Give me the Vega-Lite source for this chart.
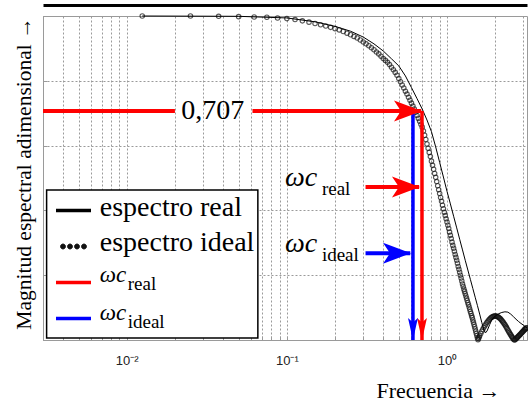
{
  "$schema": "https://vega.github.io/schema/vega-lite/v6.json",
  "width": 484,
  "height": 324,
  "autosize": {"type": "none"},
  "padding": {"left": 43, "top": 16, "right": 1, "bottom": 65},
  "background": "white",
  "config": {
    "view": {"stroke": "#9a9a9a", "strokeWidth": 1},
    "font": "Liberation Serif",
    "legend": {"labelFontSize": 27, "labelOffset": 8, "labelLimit": 400, "rowPadding": 8, "symbolSize": 1225, "labelBaseline": "middle", "clipHeight": 27, "padding": 0, "symbolFillColor": "transparent"}
  },
  "datasets": {
    "legbox": [{"x1": 0.00316, "x2": 0.0659, "y1": 0.006, "y2": 0.463}],
    "ideal": [
      {"f":0.0125,"m":1.0},{"f":0.025,"m":1.0},{"f":0.0375,"m":0.999},{"f":0.05,"m":0.998},{"f":0.0625,"m":0.997},{"f":0.075,"m":0.996},{"f":0.0875,"m":0.994},{"f":0.1,"m":0.992},
      {"f":0.1125,"m":0.989},{"f":0.125,"m":0.985},{"f":0.1375,"m":0.981},{"f":0.15,"m":0.977},{"f":0.1625,"m":0.973},{"f":0.175,"m":0.969},{"f":0.1875,"m":0.965},{"f":0.2,"m":0.961},
      {"f":0.2125,"m":0.957},{"f":0.225,"m":0.952},{"f":0.2375,"m":0.947},{"f":0.25,"m":0.942},{"f":0.2625,"m":0.937},{"f":0.275,"m":0.932},{"f":0.2875,"m":0.926},{"f":0.3,"m":0.92},
      {"f":0.3125,"m":0.914},{"f":0.325,"m":0.908},{"f":0.3375,"m":0.902},{"f":0.35,"m":0.896},{"f":0.3625,"m":0.889},{"f":0.375,"m":0.883},{"f":0.3875,"m":0.876},{"f":0.4,"m":0.869},
      {"f":0.4125,"m":0.863},{"f":0.425,"m":0.857},{"f":0.4375,"m":0.85},{"f":0.45,"m":0.842},{"f":0.4625,"m":0.834},{"f":0.475,"m":0.826},{"f":0.4875,"m":0.817},{"f":0.5,"m":0.807},
      {"f":0.5125,"m":0.797},{"f":0.525,"m":0.787},{"f":0.5375,"m":0.778},{"f":0.55,"m":0.768},{"f":0.5625,"m":0.759},{"f":0.575,"m":0.749},{"f":0.5875,"m":0.74},{"f":0.6,"m":0.731},
      {"f":0.6125,"m":0.722},{"f":0.625,"m":0.713},{"f":0.6375,"m":0.703},{"f":0.65,"m":0.693},{"f":0.6625,"m":0.684},{"f":0.675,"m":0.675},{"f":0.6875,"m":0.666},{"f":0.7,"m":0.657},
      {"f":0.7125,"m":0.645},{"f":0.725,"m":0.632},{"f":0.7375,"m":0.619},{"f":0.75,"m":0.605},{"f":0.7625,"m":0.592},{"f":0.775,"m":0.579},{"f":0.7875,"m":0.566},{"f":0.8,"m":0.552},
      {"f":0.8125,"m":0.539},{"f":0.825,"m":0.527},{"f":0.8375,"m":0.514},{"f":0.85,"m":0.502},{"f":0.8625,"m":0.489},{"f":0.875,"m":0.476},{"f":0.8875,"m":0.464},{"f":0.9,"m":0.452},
      {"f":0.9125,"m":0.44},{"f":0.925,"m":0.428},{"f":0.9375,"m":0.416},{"f":0.95,"m":0.405},{"f":0.9625,"m":0.394},{"f":0.975,"m":0.384},{"f":0.9875,"m":0.374},{"f":1.0,"m":0.364},
      {"f":1.0125,"m":0.354},{"f":1.025,"m":0.344},{"f":1.0375,"m":0.333},{"f":1.05,"m":0.323},{"f":1.0625,"m":0.313},{"f":1.075,"m":0.302},{"f":1.0875,"m":0.292},{"f":1.1,"m":0.283},
      {"f":1.1125,"m":0.274},{"f":1.125,"m":0.264},{"f":1.1375,"m":0.255},{"f":1.15,"m":0.246},{"f":1.1625,"m":0.237},{"f":1.175,"m":0.227},{"f":1.1875,"m":0.218},{"f":1.2,"m":0.209},
      {"f":1.2125,"m":0.2},{"f":1.225,"m":0.191},{"f":1.2375,"m":0.182},{"f":1.25,"m":0.173},{"f":1.2625,"m":0.165},{"f":1.275,"m":0.157},{"f":1.2875,"m":0.15},{"f":1.3,"m":0.143},
      {"f":1.3125,"m":0.136},{"f":1.325,"m":0.129},{"f":1.3375,"m":0.122},{"f":1.35,"m":0.115},{"f":1.3625,"m":0.109},{"f":1.375,"m":0.102},{"f":1.3875,"m":0.095},{"f":1.4,"m":0.088},
      {"f":1.4125,"m":0.082},{"f":1.425,"m":0.075},{"f":1.4375,"m":0.069},{"f":1.45,"m":0.062},{"f":1.4625,"m":0.055},{"f":1.475,"m":0.048},{"f":1.4875,"m":0.041},{"f":1.5,"m":0.034},
      {"f":1.5125,"m":0.027},{"f":1.525,"m":0.02},{"f":1.5375,"m":0.013},{"f":1.55,"m":0.006},{"f":1.5625,"m":0.001},{"f":1.575,"m":0.005},{"f":1.5875,"m":0.009},{"f":1.6,"m":0.013},
      {"f":1.625,"m":0.02},{"f":1.65,"m":0.027},{"f":1.675,"m":0.033},{"f":1.7,"m":0.039},{"f":1.725,"m":0.044},{"f":1.75,"m":0.049},{"f":1.775,"m":0.054},{"f":1.8,"m":0.058},
      {"f":1.825,"m":0.062},{"f":1.85,"m":0.065},{"f":1.875,"m":0.068},{"f":1.9,"m":0.07},{"f":1.925,"m":0.072},{"f":1.95,"m":0.073},{"f":1.975,"m":0.074},{"f":2.0,"m":0.074},
      {"f":2.025,"m":0.074},{"f":2.05,"m":0.073},{"f":2.075,"m":0.072},{"f":2.1,"m":0.07},{"f":2.125,"m":0.068},{"f":2.15,"m":0.066},{"f":2.175,"m":0.063},{"f":2.2,"m":0.06},
      {"f":2.225,"m":0.057},{"f":2.25,"m":0.054},{"f":2.275,"m":0.05},{"f":2.3,"m":0.047},{"f":2.325,"m":0.043},{"f":2.35,"m":0.039},{"f":2.375,"m":0.035},{"f":2.4,"m":0.031},
      {"f":2.425,"m":0.027},{"f":2.45,"m":0.023},{"f":2.475,"m":0.019},{"f":2.5,"m":0.016},{"f":2.525,"m":0.012},{"f":2.55,"m":0.009},{"f":2.575,"m":0.006},{"f":2.6,"m":0.003},
      {"f":2.625,"m":0.001},{"f":2.65,"m":0.0},{"f":2.675,"m":0.002},{"f":2.7,"m":0.004},{"f":2.725,"m":0.006},{"f":2.75,"m":0.008},{"f":2.775,"m":0.01},{"f":2.8,"m":0.012},
      {"f":2.825,"m":0.014},{"f":2.85,"m":0.016},{"f":2.875,"m":0.018},{"f":2.9,"m":0.02},{"f":2.925,"m":0.022},{"f":2.95,"m":0.024},{"f":2.975,"m":0.026},{"f":3.0,"m":0.028},
      {"f":3.025,"m":0.03},{"f":3.05,"m":0.032},{"f":3.075,"m":0.034},{"f":3.1,"m":0.035},{"f":3.125,"m":0.037},{"f":3.15,"m":0.038}
    ],
    "real": [
      {"f":0.0125,"m":1.0},{"f":0.05,"m":0.999},{"f":0.1,"m":0.994},{"f":0.15,"m":0.982},{"f":0.2,"m":0.968},{"f":0.25,"m":0.953},{"f":0.3,"m":0.935},{"f":0.35,"m":0.914},
      {"f":0.4,"m":0.892},{"f":0.45,"m":0.868},{"f":0.5,"m":0.846},{"f":0.55,"m":0.815},{"f":0.6,"m":0.779},{"f":0.65,"m":0.745},{"f":0.7,"m":0.713},{"f":0.75,"m":0.679},
      {"f":0.8,"m":0.643},{"f":0.85,"m":0.596},{"f":0.9,"m":0.548},{"f":0.95,"m":0.503},{"f":1.0,"m":0.459},{"f":1.05,"m":0.42},{"f":1.1,"m":0.382},{"f":1.15,"m":0.346},
      {"f":1.2,"m":0.311},{"f":1.25,"m":0.278},{"f":1.3,"m":0.246},{"f":1.35,"m":0.216},{"f":1.4,"m":0.187},{"f":1.45,"m":0.159},{"f":1.5,"m":0.132},{"f":1.55,"m":0.106},
      {"f":1.6,"m":0.08},{"f":1.65,"m":0.054},{"f":1.7,"m":0.031},{"f":1.74,"m":0.022},{"f":1.78,"m":0.028},{"f":1.85,"m":0.048},{"f":1.9,"m":0.061},{"f":2.0,"m":0.074},
      {"f":2.1,"m":0.081},{"f":2.2,"m":0.085},{"f":2.3,"m":0.087},{"f":2.4,"m":0.086},{"f":2.5,"m":0.08},{"f":2.6,"m":0.072},{"f":2.7,"m":0.064},{"f":2.8,"m":0.057},
      {"f":2.9,"m":0.051},{"f":3.0,"m":0.046},{"f":3.1,"m":0.04},{"f":3.16,"m":0.037}
    ],
    "hseg": [
      {"serie":"ωc real","x1":0.003,"x2":0.02,"y":0.707},
      {"serie":"ωc real","x1":0.061,"x2":0.69,"y":0.707},
      {"serie":"ωc real","x1":0.31,"x2":0.67,"y":0.472},
      {"serie":"ωc ideal","x1":0.31,"x2":0.59,"y":0.268}
    ],
    "vseg": [
      {"serie":"ωc real","x":0.698,"y1":0.707,"y2":0.0},
      {"serie":"ωc ideal","x":0.613,"y1":0.70,"y2":0.0}
    ],
    "tipr": [
      {"serie":"ωc real","x":0.698,"y":0.707},
      {"serie":"ωc real","x":0.678,"y":0.472},
      {"serie":"ωc ideal","x":0.596,"y":0.268}
    ],
    "tipd": [
      {"serie":"ωc real","x":0.698,"y":0.0},
      {"serie":"ωc ideal","x":0.613,"y":0.0}
    ],
    "lbl": [{"t":"0,707","f":0.0345,"m":0.707}],
    "legtxt": [
      {"t":"espectro real","f":0.00678,"m":0.383},
      {"t":"espectro ideal","f":0.00678,"m":0.275}
    ],
    "omega": [
      {"sub":"real","f":0.0972,"m":0.475,"g":"plot"},
      {"sub":"ideal","f":0.0972,"m":0.272,"g":"plot"},
      {"sub":"real","f":0.00678,"m":0.18,"g":"leg"},
      {"sub":"ideal","f":0.00678,"m":0.062,"g":"leg"}
    ],
    "leg": [
      {"serie":"espectro real","f":0.001,"m":0.5},
      {"serie":"espectro ideal","f":0.001,"m":0.5},
      {"serie":"ωc real","f":0.001,"m":0.5},
      {"serie":"ωc ideal","f":0.001,"m":0.5}
    ]
  },
  "layer": [
    {
      "data": {"name": "legbox"},
      "mark": {"type": "rect", "fill": "white", "stroke": "black", "strokeWidth": 1.5},
      "encoding": {
        "x": {"field": "x1", "type": "quantitative", "scale": {"type": "log", "domain": [0.003, 3.16], "nice": false}, "axis": null},
        "x2": {"field": "x2"},
        "y": {
          "field": "y1", "type": "quantitative", "scale": {"domain": [0, 1], "nice": false, "zero": false},
          "axis": {
            "values": [0, 0.2, 0.4, 0.6, 0.8, 1],
            "grid": true, "gridDash": [2, 2], "gridColor": "#9a9a9a", "gridWidth": 1,
            "labels": false, "ticks": true, "tickSize": -4, "tickColor": "#9a9a9a", "domainColor": "#9a9a9a",
            "title": "Magnitud espectral adimensional  →", "titleFont": "Liberation Serif", "titleFontSize": 21.5,
            "titleFontWeight": "normal", "titleColor": "black", "titleX": -13, "titleY": 157, "titleAngle": 270,
            "titleAlign": "center", "titleBaseline": "alphabetic"
          }
        },
        "y2": {"field": "y2"}
      }
    },
    {
      "data": {"name": "ideal"},
      "mark": {"type": "point", "shape": "circle", "filled": false, "size": 20, "strokeWidth": 1.1, "color": "#111111"},
      "encoding": {
        "x": {
          "field": "f", "type": "quantitative",
          "axis": {
            "orient": "bottom",
            "values": [0.003,0.004,0.005,0.006,0.007,0.008,0.009,0.01,0.02,0.03,0.04,0.05,0.06,0.07,0.08,0.09,0.1,0.2,0.3,0.4,0.5,0.6,0.7,0.8,0.9,1,2,3],
            "grid": true, "gridDash": [2, 2], "gridColor": "#9a9a9a", "gridWidth": 1,
            "domainColor": "#9a9a9a", "ticks": true, "tickSize": -4, "tickColor": "#9a9a9a",
            "labelExpr": "datum.value == 0.01 ? '10⁻²' : datum.value == 0.1 ? '10⁻¹' : datum.value == 1 ? '10⁰' : ''",
            "labelFont": "Liberation Sans", "labelFontSize": 13, "labelColor": "#222222",
            "labelPadding": 18, "labelOverlap": false, "labelFlush": false,
            "title": "Frecuencia →", "titleFont": "Liberation Serif", "titleFontSize": 22, "titleFontWeight": "normal",
            "titleColor": "black", "titleX": 395, "titleY": 57, "titleAlign": "center", "titleBaseline": "alphabetic", "titleAnchor": null
          }
        },
        "y": {"field": "m", "type": "quantitative"}
      }
    },
    {
      "data": {"name": "real"},
      "mark": {"type": "line", "color": "black", "strokeWidth": 1},
      "encoding": {
        "x": {"field": "f", "type": "quantitative",
              "axis": {"orient": "top", "offset": 11, "domain": true, "domainWidth": 3, "domainColor": "black", "ticks": false, "labels": false, "grid": false, "title": null}},
        "y": {"field": "m", "type": "quantitative"}
      }
    },
    {
      "data": {"name": "hseg"},
      "mark": {"type": "rule", "strokeWidth": 4},
      "encoding": {
        "x": {"field": "x1", "type": "quantitative", "axis": null},
        "x2": {"field": "x2"},
        "y": {"field": "y", "type": "quantitative"},
        "color": {"field": "serie", "type": "nominal"}
      }
    },
    {
      "data": {"name": "vseg"},
      "mark": {"type": "rule", "strokeWidth": 3.5},
      "encoding": {
        "x": {"field": "x", "type": "quantitative", "axis": null},
        "y": {"field": "y1", "type": "quantitative"},
        "y2": {"field": "y2"},
        "color": {"field": "serie", "type": "nominal"}
      }
    },
    {
      "data": {"name": "tipr"},
      "mark": {"type": "point", "shape": "M0,0L-2,-0.75L-1.5,0L-2,0.75Z", "filled": true, "size": 784, "opacity": 1, "strokeWidth": 0},
      "encoding": {
        "x": {"field": "x", "type": "quantitative", "axis": null},
        "y": {"field": "y", "type": "quantitative"},
        "color": {"field": "serie", "type": "nominal"}
      }
    },
    {
      "data": {"name": "tipd"},
      "mark": {"type": "point", "shape": "M0,0L-0.45,-2L0,-1.6L0.45,-2Z", "filled": true, "size": 484, "opacity": 1, "strokeWidth": 0},
      "encoding": {
        "x": {"field": "x", "type": "quantitative", "axis": null},
        "y": {"field": "y", "type": "quantitative"},
        "color": {"field": "serie", "type": "nominal"}
      }
    },
    {
      "data": {"name": "lbl"},
      "mark": {"type": "text", "font": "Liberation Serif", "fontSize": 28, "align": "center", "baseline": "middle", "color": "black"},
      "encoding": {
        "x": {"field": "f", "type": "quantitative", "axis": null},
        "y": {"field": "m", "type": "quantitative"},
        "text": {"field": "t"}
      }
    },
    {
      "data": {"name": "legtxt"},
      "mark": {"type": "text", "font": "Liberation Serif", "fontSize": 28, "align": "left", "baseline": "alphabetic", "color": "black"},
      "encoding": {
        "x": {"field": "f", "type": "quantitative", "axis": null},
        "y": {"field": "m", "type": "quantitative"},
        "text": {"field": "t"}
      }
    },
    {
      "data": {"name": "omega"},
      "transform": [{"filter": "datum.g == 'plot'"}],
      "mark": {"type": "text", "font": "Liberation Serif", "fontSize": 28, "fontStyle": "italic", "align": "left", "baseline": "alphabetic", "color": "black", "text": "ωc"},
      "encoding": {
        "x": {"field": "f", "type": "quantitative", "axis": null},
        "y": {"field": "m", "type": "quantitative"}
      }
    },
    {
      "data": {"name": "omega"},
      "transform": [{"filter": "datum.g == 'plot'"}],
      "mark": {"type": "text", "font": "Liberation Serif", "fontSize": 19, "align": "left", "baseline": "alphabetic", "color": "black", "dx": 37, "dy": 9},
      "encoding": {
        "x": {"field": "f", "type": "quantitative", "axis": null},
        "y": {"field": "m", "type": "quantitative"},
        "text": {"field": "sub"}
      }
    },
    {
      "data": {"name": "omega"},
      "transform": [{"filter": "datum.g == 'leg'"}],
      "mark": {"type": "text", "font": "Liberation Serif", "fontSize": 23, "fontStyle": "italic", "align": "left", "baseline": "alphabetic", "color": "black", "text": "ωc"},
      "encoding": {
        "x": {"field": "f", "type": "quantitative", "axis": null},
        "y": {"field": "m", "type": "quantitative"}
      }
    },
    {
      "data": {"name": "omega"},
      "transform": [{"filter": "datum.g == 'leg'"}],
      "mark": {"type": "text", "font": "Liberation Serif", "fontSize": 19, "align": "left", "baseline": "alphabetic", "color": "black", "dx": 28, "dy": 8},
      "encoding": {
        "x": {"field": "f", "type": "quantitative", "axis": null},
        "y": {"field": "m", "type": "quantitative"},
        "text": {"field": "sub"}
      }
    },
    {
      "data": {"name": "leg"},
      "mark": {"type": "point", "filled": false, "clip": true},
      "encoding": {
        "x": {"field": "f", "type": "quantitative", "axis": null},
        "y": {"field": "m", "type": "quantitative"},
        "color": {
          "field": "serie", "type": "nominal",
          "scale": {"domain": ["espectro real", "espectro ideal", "ωc real", "ωc ideal"], "range": ["#000000", "#111111", "#ff0000", "#0000ff"]},
          "legend": {"title": null, "orient": "none", "legendX": 11, "legendY": 181, "padding": 0, "labelFontSize": 27, "labelOffset": 8, "labelLimit": 400, "rowPadding": 8, "symbolSize": 1225, "labelBaseline": "middle", "clipHeight": 27, "symbolFillColor": "transparent", "labelExpr": "' '"}
        },
        "shape": {
          "field": "serie", "type": "nominal",
          "scale": {"domain": ["espectro real", "espectro ideal", "ωc real", "ωc ideal"], "range": ["M-1,0H1", "M-0.46,0A0.14,0.14 0 1,1 -0.74,0A0.14,0.14 0 1,1 -0.46,0ZM-0.06,0A0.14,0.14 0 1,1 -0.34,0A0.14,0.14 0 1,1 -0.06,0ZM0.34,0A0.14,0.14 0 1,1 0.06,0A0.14,0.14 0 1,1 0.34,0ZM0.74,0A0.14,0.14 0 1,1 0.46,0A0.14,0.14 0 1,1 0.74,0Z", "M-1,0H1", "M-1,0H1"]},
          "legend": {"title": null, "orient": "none", "legendX": 11, "legendY": 181, "padding": 0, "labelFontSize": 27, "labelOffset": 8, "labelLimit": 400, "rowPadding": 8, "symbolSize": 1225, "labelBaseline": "middle", "clipHeight": 27, "symbolFillColor": "transparent", "labelExpr": "' '"}
        },
        "strokeWidth": {
          "field": "serie", "type": "nominal",
          "scale": {"type": "ordinal", "domain": ["espectro real", "espectro ideal", "ωc real", "ωc ideal"], "range": [3.5, 1, 3.5, 3.5]},
          "legend": {"title": null, "orient": "none", "legendX": 11, "legendY": 181, "padding": 0, "labelFontSize": 27, "labelOffset": 8, "labelLimit": 400, "rowPadding": 8, "symbolSize": 1225, "labelBaseline": "middle", "clipHeight": 27, "symbolFillColor": "transparent", "labelExpr": "' '"}
        }
      }
    }
  ]
}
